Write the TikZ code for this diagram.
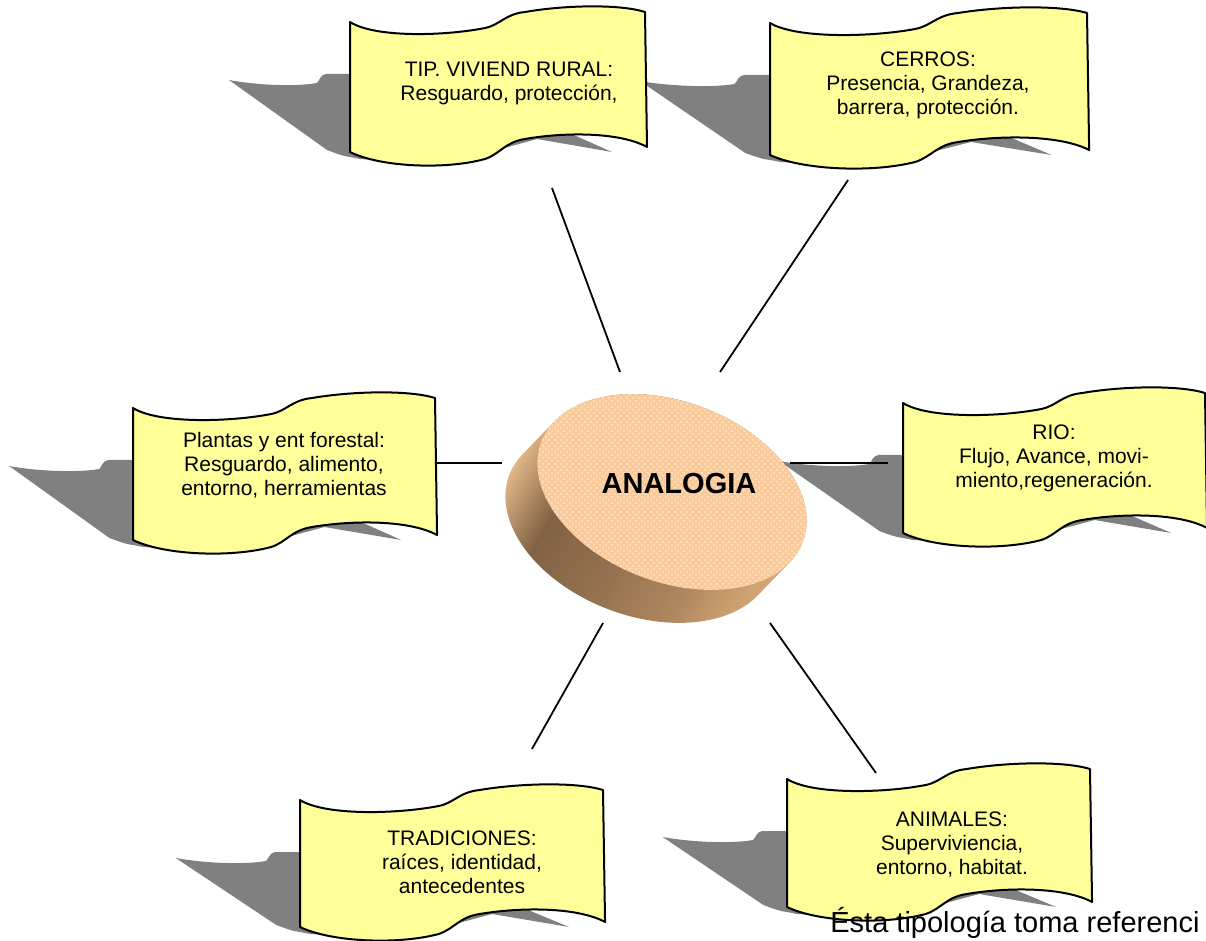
\documentclass[tikz,border=0pt]{standalone}
\usepackage{fontspec}
\setmainfont{Liberation Sans}
\usetikzlibrary{patterns}
\definecolor{banneryellow}{HTML}{FFFF99}
\definecolor{shadowgray}{HTML}{808080}
\definecolor{peach}{RGB}{250,202,155}
\definecolor{peachlight}{RGB}{255,232,208}
\definecolor{sideA}{RGB}{236,192,142}
\definecolor{sideB}{RGB}{128,98,68}
\definecolor{sideC}{RGB}{150,115,80}
\definecolor{sideD}{RGB}{175,135,95}
\definecolor{sideE}{RGB}{200,156,108}
\definecolor{sideF}{RGB}{215,170,120}
\pgfdeclarehorizontalshading{cylside}{100bp}{color(0bp)=(sideA); color(25bp)=(sideA); color(36bp)=(sideB); color(50bp)=(sideC); color(62bp)=(sideD); color(69bp)=(sideE); color(75bp)=(sideF); color(100bp)=(sideF)}
\tikzset{
  bannerstyle/.style={fill=banneryellow, draw=black, line width=1pt, line join=round},
  btext/.style={font=\fontsize{10.5}{12}\selectfont, align=center, inner sep=0pt},
  link/.style={draw=black, line width=0.9pt},
}
\newcommand{\bshadow}[4]{%
  \pgfmathsetmacro\bsx{#3/295}%
  \begin{scope}[shift={(#1,#2)}, xscale=\bsx]
  \fill[shadowgray] (-121,58) .. controls (-95,63) and (-55,65) .. (-33,61)
     .. controls (-30,58) and (-30,53) .. (-24,52) -- (0,52) -- (100,58) -- (262,#4)
     -- (187,{#4-13}) -- (140,#4) -- (60,{#4+10}) -- (10,{#4+7}) -- (0,{#4+5})
     .. controls (-8,{#4+4}) and (-15,{#4+1}) .. (-23,{#4-2}) -- cycle;
  \end{scope}}
\newcommand{\bbody}[4]{%
  \pgfmathsetmacro\bsx{#3/295}%
  \begin{scope}[shift={(#1,#2)}, xscale=\bsx]
  \filldraw[bannerstyle] (0,0) .. controls (25,16) and (95,14) .. (135,6)
     .. controls (150,3) and (155,-8) .. (175,-10)
     .. controls (215,-17) and (270,-18) .. (295,-10) -- (297,{#4-5})
     .. controls (270,{#4-20}) and (215,{#4-20}) .. (175,{#4-13})
     .. controls (155,{#4-10}) and (150,{#4+2}) .. (135,{#4+7})
     .. controls (95,{#4+18}) and (30,{#4+15}) .. (0,#4) -- cycle;
  \end{scope}}
\begin{document}
\begin{tikzpicture}[x=0.5pt, y=-0.5pt]
\clip (0,0) rectangle (1206,941);
\fill[white] (0,0) rectangle (1206,941);
% shadows
\bshadow{350}{22}{295}{130}
\bshadow{770}{23}{317}{132}
\bshadow{133}{408}{302}{132}
\bshadow{903}{403}{302}{130}
\bshadow{300}{800}{303}{127}
\bshadow{787}{779}{303}{128}
% cylinder
\shade[shading=cylside, shading angle=-30]
  foreach \k in {0,...,16} { ({672-32*\k/16},{492+33*\k/16}) ellipse [x radius=70pt, y radius=45pt, rotate=-21] };
\fill[peach] (672,492) ellipse [x radius=70pt, y radius=45pt, rotate=-21];
\fill[pattern=crosshatch dots, pattern color=peachlight] (672,492) ellipse [x radius=70pt, y radius=45pt, rotate=-21];
\node[font=\fontsize{14.5}{16}\selectfont\bfseries, inner sep=0pt] (analogia) at (679,484) {ANALOGIA};
% connectors
\coordinate (tipA) at (552,188);   \coordinate (tipB) at (620,372);
\coordinate (cerA) at (848,180);   \coordinate (cerB) at (720,372);
\coordinate (plaA) at (432,463);   \coordinate (plaB) at (502,463);
\coordinate (rioA) at (888,463);   \coordinate (rioB) at (790,463);
\coordinate (traA) at (532,749);   \coordinate (traB) at (603,623);
\coordinate (aniA) at (876,773);   \coordinate (aniB) at (770,623);
\draw[link] (tipA) -- (tipB);
\draw[link] (cerA) -- (cerB);
\draw[link] (plaA) -- (plaB);
\draw[link] (rioA) -- (rioB);
\draw[link] (traA) -- (traB);
\draw[link] (aniA) -- (aniB);
% banners
\bbody{350}{22}{295}{130}
\bbody{770}{23}{317}{132}
\bbody{133}{408}{302}{132}
\bbody{903}{403}{302}{130}
\bbody{300}{800}{303}{127}
\bbody{787}{779}{303}{128}
\node[btext] (tip) at (509,83) {TIP. VIVIEND RURAL:\\Resguardo, protección,};
\node[btext] (cerros) at (928,85) {CERROS:\\Presencia, Grandeza,\\barrera, protección.};
\node[btext] (plantas) at (284,465) {Plantas y ent forestal:\\Resguardo, alimento,\\entorno, herramientas};
\node[btext] (rio) at (1054,458) {RIO:\\Flujo, Avance, movi-\\miento,regeneración.};
\node[btext] (trad) at (462,862) {TRADICIONES:\\raíces, identidad,\\antecedentes};
\node[btext] (anim) at (952,845) {ANIMALES:\\Superviviencia,\\entorno, habitat.};
\node[anchor=base west, font=\fontsize{14.5}{16}\selectfont, inner sep=0pt] (nota) at (830,932) {Ésta tipología toma referenci};
\end{tikzpicture}
\end{document}
